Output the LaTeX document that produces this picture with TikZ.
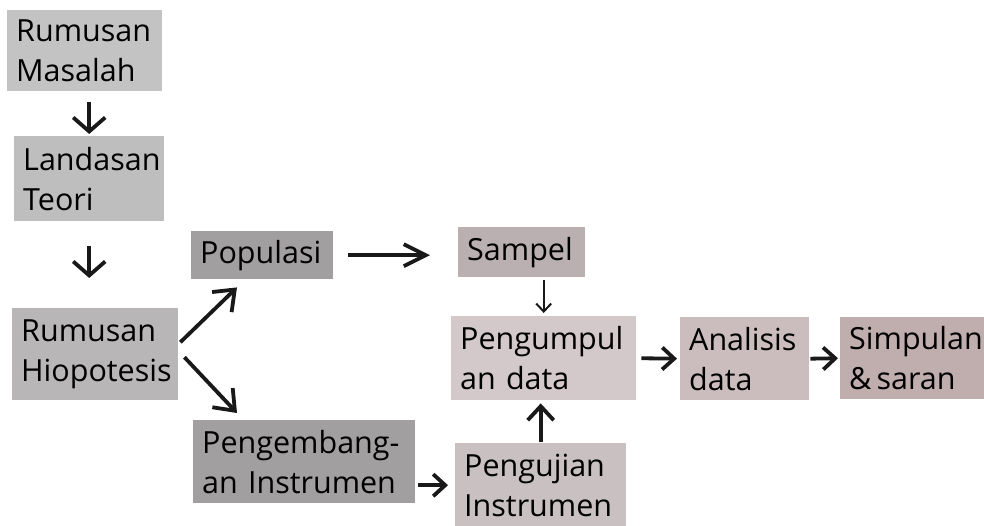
\documentclass[tikz,border=0pt]{standalone}
\usepackage{fontspec}
\setmainfont{Open Sans}
\usepackage{xcolor}
\usetikzlibrary{
    arrows.meta,
    shapes,
    positioning,
    calc
}

\definecolor{grayA}{HTML}{C4C3C3}
\definecolor{grayB}{HTML}{BFBEBE}
\definecolor{grayC}{HTML}{B8B6B6}
\definecolor{grayD}{HTML}{A19F9F}
\definecolor{pinkA}{HTML}{BAB0B1}
\definecolor{pinkB}{HTML}{D3C9CA}
\definecolor{pinkC}{HTML}{C8C0C1}
\definecolor{pinkD}{HTML}{CBBCBD}
\definecolor{pinkE}{HTML}{C0ADAE}

\begin{document}
\begin{tikzpicture}[x=1pt, y=1pt,
        >={Straight Barb[length=14pt,width=26pt]},
        box/.style={
            % The shape:
            rectangle, anchor=north west,
            % The text
            align=left, inner xsep=9pt, inner ysep=0pt,
            font=\fontsize{30.5}{40}\selectfont,
            execute at begin node={\hyphenpenalty=10000},
            % The border
            draw=none},
        arr/.style={->, line width=3.8pt, black!90}]

        \useasboundingbox (0,0) rectangle (984,-525);

        % left column
        \node[box, fill=grayA, text width=137pt, minimum height=81pt] (rm) at (7,-10) {Rumusan\\Masalah};
        \node[box, fill=grayB, text width=132pt, minimum height=85pt] (lt) at (14,-136) {Landasan\\Teori};
        \node[box, fill=grayC, text width=148pt, minimum height=92pt] (rh) at (12,-308) {Rumusan\\Hiopotesis};

        % middle
        \node[box, fill=grayD, text width=124pt, minimum height=48pt] (pop) at (191,-231) {Populasi};
        \node[box, fill=grayD, text width=204pt, minimum height=83pt] (peng) at (193,-420) {Pengembang-\\an Instrumen};
        \node[box, fill=pinkA, text width=109pt, minimum height=50pt] (sam) at (458,-227) {Sampel};
        \node[box, fill=pinkB, text width=167pt, minimum height=84pt] (pd) at (451,-316) {Pengumpul\\an data};
        \node[box, fill=pinkC, text width=153pt, minimum height=84pt] (uji) at (455,-443) {Pengujian\\Instrumen};

        % right
        \node[box, fill=pinkD, text width=111pt, minimum height=83pt] (an) at (680,-317) {Analisis\\data};
        \node[box, fill=pinkE, text width=132pt, minimum height=82pt] (sim) at (840,-317) {Simpulan\\\&\,saran};

        % arrows
        \draw[arr, -{Straight Barb[length=14pt,width=32pt]}, shorten <=11pt, shorten >=2pt] (lt.north |- rm.south) -- (lt.north);
        \draw[arr, -{Straight Barb[length=14pt,width=32pt]}, shorten <=25pt, shorten >=30pt] (lt.south) -- (lt.south |- rh.north);
        \draw[arr, -{Straight Barb[length=18pt,width=28pt]}] ([shift={(2,12)}]rh.east) -- ([shift={(46,-8)}]pop.south west);
        \draw[arr, -{Straight Barb[length=18pt,width=28pt]}] ([shift={(6,-3)}]rh.east) -- ([shift={(44,7)}]peng.north west);
        \draw[arr, -{Straight Barb[length=22pt,width=22pt]}, shorten <=15pt, shorten >=28pt] (pop.east) -- (pop.east -| sam.west);
        \draw[arr, line width=2pt, -{Straight Barb[length=8pt,width=15pt]}, shorten <=3pt, shorten >=3pt] (pd.north |- sam.south) -- (pd.north);
        \draw[arr, -{Straight Barb[length=12pt,width=22pt]}, shorten <=3pt, shorten >=7pt] (peng.east |- uji.west) -- (uji.west);
        \draw[arr, -{Straight Barb[length=14pt,width=26pt]}, shorten <=1pt, shorten >=3pt] (uji.north) -- (uji.north |- pd.south);
        \draw[arr, -{Straight Barb[length=12pt,width=22pt]}, shorten <=5pt, shorten >=3pt] (pd.east) -- (an.west);
        \draw[arr, -{Straight Barb[length=12pt,width=22pt]}, shorten <=1pt, shorten >=2pt] (an.east) -- (sim.west);

\end{tikzpicture}
\end{document}
